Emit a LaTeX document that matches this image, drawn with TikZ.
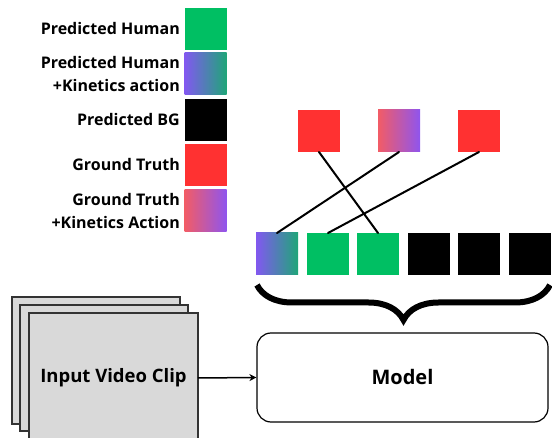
\documentclass[tikz,border=0pt]{standalone}
\usepackage{fontspec}
\setmainfont{Open Sans}
\usetikzlibrary{arrows.meta,decorations.pathreplacing}
\definecolor{hgreen}{HTML}{00BF63}
\definecolor{gtred}{HTML}{FF3131}
\definecolor{kpurple}{HTML}{8258F0}
\definecolor{kgreen}{HTML}{1FA678}
\definecolor{kpink}{HTML}{F25C66}
\definecolor{kviolet}{HTML}{8F55EE}
\definecolor{paper}{HTML}{D9D9D9}
\tikzset{
  tok/.style={minimum size=42pt, inner sep=0pt, outer sep=0pt},
  human/.style={tok, fill=hgreen},
  bg/.style={tok, fill=black},
  gt/.style={tok, fill=gtred},
  humankin/.style={tok, left color=kpurple, right color=kgreen},
  gtkin/.style={tok, left color=kpink, right color=kviolet},
  lbl/.style={anchor=east, align=right, font=\bfseries\fontsize{16}{23}\selectfont, inner sep=0pt},
  link/.style={line width=2pt, line cap=round},
  sheet/.style={draw=black!80, line width=1.3pt, fill=paper},
}
\begin{document}
\begin{tikzpicture}[x=1pt,y=-1pt]
\useasboundingbox (0,0) rectangle (552,438);
% legend
\node[human]    (l1) at (205.5,29)  {};
\node[humankin] (l2) at (205.5,74)  {};
\node[bg]       (l3) at (205.5,120) {};
\node[gt]       (l4) at (205.5,165) {};
\node[gtkin]    (l5) at (205.5,211) {};
\node[lbl] (t1) at (180,29)  {Predicted Human};
\node[lbl] (t2) at (180,74)  {Predicted Human\\+Kinetics action};
\node[lbl] (t3) at (180,120) {Predicted BG};
\node[lbl] (t4) at (180,165) {Ground Truth};
\node[lbl] (t5) at (180,211) {Ground Truth\\+Kinetics Action};
% ground-truth row
\node[gt]    (g1) at (319,131) {};
\node[gtkin] (g2) at (399,131) {};
\node[gt]    (g3) at (479,131) {};
% predicted row
\node[humankin] (p1) at (277,254) {};
\node[human]    (p2) at (328,254) {};
\node[human]    (p3) at (378,254) {};
\node[bg]       (p4) at (429,254) {};
\node[bg]       (p5) at (479,254) {};
\node[bg]       (p6) at (530,254) {};
% matching
\draw[link] (g1.south) -- (p3.north);
\draw[link] (g2.south) -- (p1.north);
\draw[link] (g3.south) -- (p2.north);
% brace over predictions
\coordinate (br) at (550,285);
\coordinate (bl) at (257,285);
\draw[line width=6pt, decorate, decoration={brace, amplitude=35pt, aspect=0.5}] (br) -- (bl);
% input clip stack
\begin{scope}
\clip (0,0) rectangle (552,438);
\draw[sheet] (12,297) rectangle (180,424);
\draw[sheet] (20,305) rectangle (188,431);
\draw[sheet] (29,313) rectangle (198,445);
\end{scope}
\node[font=\bfseries\fontsize{18.5}{20}\selectfont, inner sep=0pt] (clip) at (113.5,378) {Input Video Clip};
\coordinate (clipR) at (198,378);
% model
\node[draw, line width=1.2pt, rounded corners=14pt, minimum width=291pt, minimum height=89pt, font=\bfseries\fontsize{20}{22}\selectfont] (model) at (402.5,377.5) {Model};
\draw[line width=1.5pt, -{Stealth[length=7pt,width=7pt]}] (clipR) -- (model.west);
\end{tikzpicture}
\end{document}
